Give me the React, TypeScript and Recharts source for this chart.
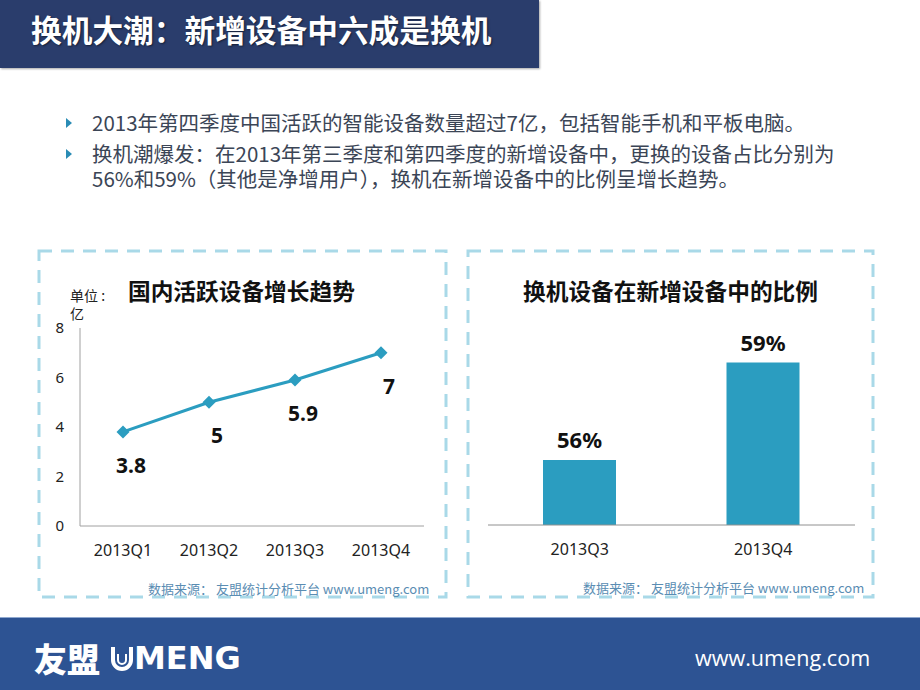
import React from 'react';
import {
  LineChart,
  Line,
  BarChart,
  Bar,
  XAxis,
  YAxis,
  LabelList,
} from 'recharts';

// left chart: active devices (亿)
const quarters = ['2013Q1', '2013Q2', '2013Q3', '2013Q4'];
const activeDevices = [3.8, 5, 5.9, 7];
const deviceTicks = [0, 2, 4, 6, 8];

// right chart: share of replacement devices (%)
const shareQuarters = ['2013Q3', '2013Q4'];
const replaceShare = [56, 59];

const bulletLines = [
  ['2013年第四季度中国活跃的智能设备数量超过7亿，包括智能手机和平板电脑。'],
  ['换机潮爆发：在2013年第三季度和第四季度的新增设备中，更换的设备占比分别为', '56%和59%（其他是净增用户），换机在新增设备中的比例呈增长趋势。'],
];

const TEAL = '#2b9dc0';
const CJK = '"Noto Sans CJK SC", "Noto Sans", sans-serif';
const LATIN = '"Noto Sans", "Noto Sans CJK SC", sans-serif';

const lineData = quarters.map((q, i) => ({ q, v: activeDevices[i] }));
const barData = shareQuarters.map((q, i) => ({ q, v: replaceShare[i] }));

const Diamond = (props: any) => {
  const { cx, cy, index } = props;
  const r = 6.5;
  return (
    <path
      key={`dm-${index}`}
      d={`M${cx},${cy - r} L${cx + r},${cy} L${cx},${cy + r} L${cx - r},${cy} Z`}
      fill={TEAL}
    />
  );
};

const LineValue = (props: any) => {
  const { x, y, value } = props;
  return (
    <text
      x={x + 8}
      y={y + 33}
      textAnchor="middle"
      dominantBaseline="central"
      fontFamily={LATIN}
      fontWeight={700}
      fontSize={21}
      fill="#111"
    >
      {value}
    </text>
  );
};

const BarValue = (props: any) => {
  const { x, y, width, value } = props;
  return (
    <text
      x={x + width / 2}
      y={y - 21}
      textAnchor="middle"
      dominantBaseline="central"
      fontFamily={LATIN}
      fontWeight={700}
      fontSize={22}
      fill="#111"
    >
      {value}%
    </text>
  );
};

const abs = (left: number, top: number): React.CSSProperties => ({
  position: 'absolute',
  left,
  top,
});

const tickStyle = { fill: '#222', fontSize: 16, fontFamily: LATIN };

export default function App() {
  return (
    <div
      style={{
        position: 'absolute',
        left: 0,
        top: 0,
        width: 920,
        height: 690,
        overflow: 'hidden',
        background: '#fff',
        fontFamily: CJK,
      }}
    >
      {/* header */}
      <div
        style={{
          ...abs(0, 0),
          width: 539,
          height: 68,
          background: '#2a3d6c',
          boxShadow: '1px 1px 2px rgba(0,0,0,0.35)',
        }}
      />
      <div
        style={{
          ...abs(31, 13),
          fontSize: 30.7,
          lineHeight: '31px',
          fontWeight: 700,
          color: '#fff',
          whiteSpace: 'nowrap',
          textShadow: '1px 1px 2px rgba(0,0,0,0.5)',
        }}
      >
        换机大潮：新增设备中六成是换机
      </div>

      {/* bullets */}
      {bulletLines.map((lines, i) => (
        <div key={i} style={{ ...abs(0, i === 0 ? 109.5 : 140.5), width: 920 }}>
          <svg style={abs(66, 8)} width={8} height={10}>
            <path d="M0,0 L6,5 L0,10 Z" fill="#2a8cb5" />
          </svg>
          {lines.map((t, j) => (
            <div
              key={j}
              style={{
                position: 'absolute',
                left: 92,
                top: j * 25,
                fontSize: 20.5,
                lineHeight: '25px',
                color: '#3b4556',
                whiteSpace: 'nowrap',
              }}
            >
              {t}
            </div>
          ))}
        </div>
      ))}

      {/* dashed frames */}
      <svg style={abs(0, 0)} width={920} height={690} pointerEvents="none">
        <rect x={39} y={251} width={407} height={346} fill="none" stroke="#a9d9e8" strokeWidth={3} strokeDasharray="13 9" />
        <rect x={468} y={251} width={405} height={346} fill="none" stroke="#a9d9e8" strokeWidth={3} strokeDasharray="13 9" />
      </svg>

      {/* left chart */}
      <div style={{ ...abs(128, 278.5), fontSize: 22.7, lineHeight: '23px', fontWeight: 700, color: '#111', whiteSpace: 'nowrap' }}>
        国内活跃设备增长趋势
      </div>
      <div style={{ ...abs(70, 286), fontSize: 14, lineHeight: '18px', color: '#222', whiteSpace: 'nowrap' }}>
        单位 :
        <br />
        亿
      </div>
      <div style={abs(38, 250)}>
        <LineChart width={408} height={348} data={lineData} margin={{ top: 78, right: 22, bottom: 32, left: 6 }}>
          <XAxis
            dataKey="q"
            axisLine={{ stroke: '#a0a0a0' }}
            tickLine={false}
            tickSize={0}
            tickMargin={19}
            height={40}
            padding={{ left: 43, right: 43 }}
            tick={tickStyle}
          />
          <YAxis
            domain={[0, 8]}
            ticks={deviceTicks}
            width={36}
            axisLine={{ stroke: '#a0a0a0' }}
            tickLine={false}
            tickSize={0}
            tickMargin={16}
            tick={{ ...tickStyle, fontSize: 15 }}
          />
          <Line
            dataKey="v"
            stroke={TEAL}
            strokeWidth={3}
            dot={Diamond}
            activeDot={false}
            isAnimationActive={false}
          >
            <LabelList dataKey="v" content={LineValue} />
          </Line>
        </LineChart>
      </div>
      <div style={{ ...abs(148, 581), fontSize: 13, lineHeight: '16px', color: '#5a8db3', whiteSpace: 'nowrap' }}>
        数据来源： 友盟统计分析平台 www.umeng.com
      </div>

      {/* right chart */}
      <div
        style={{
          ...abs(468, 278.5),
          width: 405,
          textAlign: 'center',
          fontSize: 22.7,
          lineHeight: '23px',
          fontWeight: 700,
          color: '#111',
          whiteSpace: 'nowrap',
        }}
      >
        换机设备在新增设备中的比例
      </div>
      <div style={abs(466, 250)}>
        <BarChart width={408} height={348} data={barData} margin={{ top: 80, right: 19, bottom: 33, left: 22 }}>
          <XAxis
            dataKey="q"
            axisLine={{ stroke: '#909090' }}
            tickLine={false}
            tickSize={0}
            tickMargin={19}
            height={40}
            tick={tickStyle}
          />
          <YAxis hide domain={[54, 60]} />
          <Bar dataKey="v" fill={TEAL} barSize={73} isAnimationActive={false}>
            <LabelList dataKey="v" content={BarValue} />
          </Bar>
        </BarChart>
      </div>
      <div style={{ ...abs(583, 580), fontSize: 13, lineHeight: '16px', color: '#5a8db3', whiteSpace: 'nowrap' }}>
        数据来源： 友盟统计分析平台 www.umeng.com
      </div>

      {/* footer */}
      <div style={{ ...abs(0, 617), width: 920, height: 73, background: '#2d5393', borderTop: '1px solid #8fa8cf' }} />
      <div style={{ ...abs(34, 640), fontSize: 33, lineHeight: '36px', fontWeight: 900, color: '#fff', whiteSpace: 'nowrap' }}>
        友盟
      </div>
      <svg style={abs(110, 644)} width={24} height={28}>
        <path d="M3,3 L3,16 A9,9 0 0 0 21,16 L21,3" fill="none" stroke="#fff" strokeWidth={4} />
        <path d="M8,10 L8,16 A4,4 0 0 0 16,16 L16,10" fill="none" stroke="#fff" strokeWidth={2} />
      </svg>
      <div
        style={{
          ...abs(134, 640),
          fontSize: 32,
          lineHeight: '36px',
          fontWeight: 700,
          color: '#fff',
          fontFamily: '"DejaVu Sans", sans-serif',
          whiteSpace: 'nowrap',
        }}
      >
        MENG
      </div>
      <div
        style={{
          ...abs(695, 645),
          fontSize: 21.6,
          lineHeight: '26px',
          color: '#fff',
          fontFamily: '"Open Sans", sans-serif',
          whiteSpace: 'nowrap',
        }}
      >
        www.umeng.com
      </div>
    </div>
  );
}
